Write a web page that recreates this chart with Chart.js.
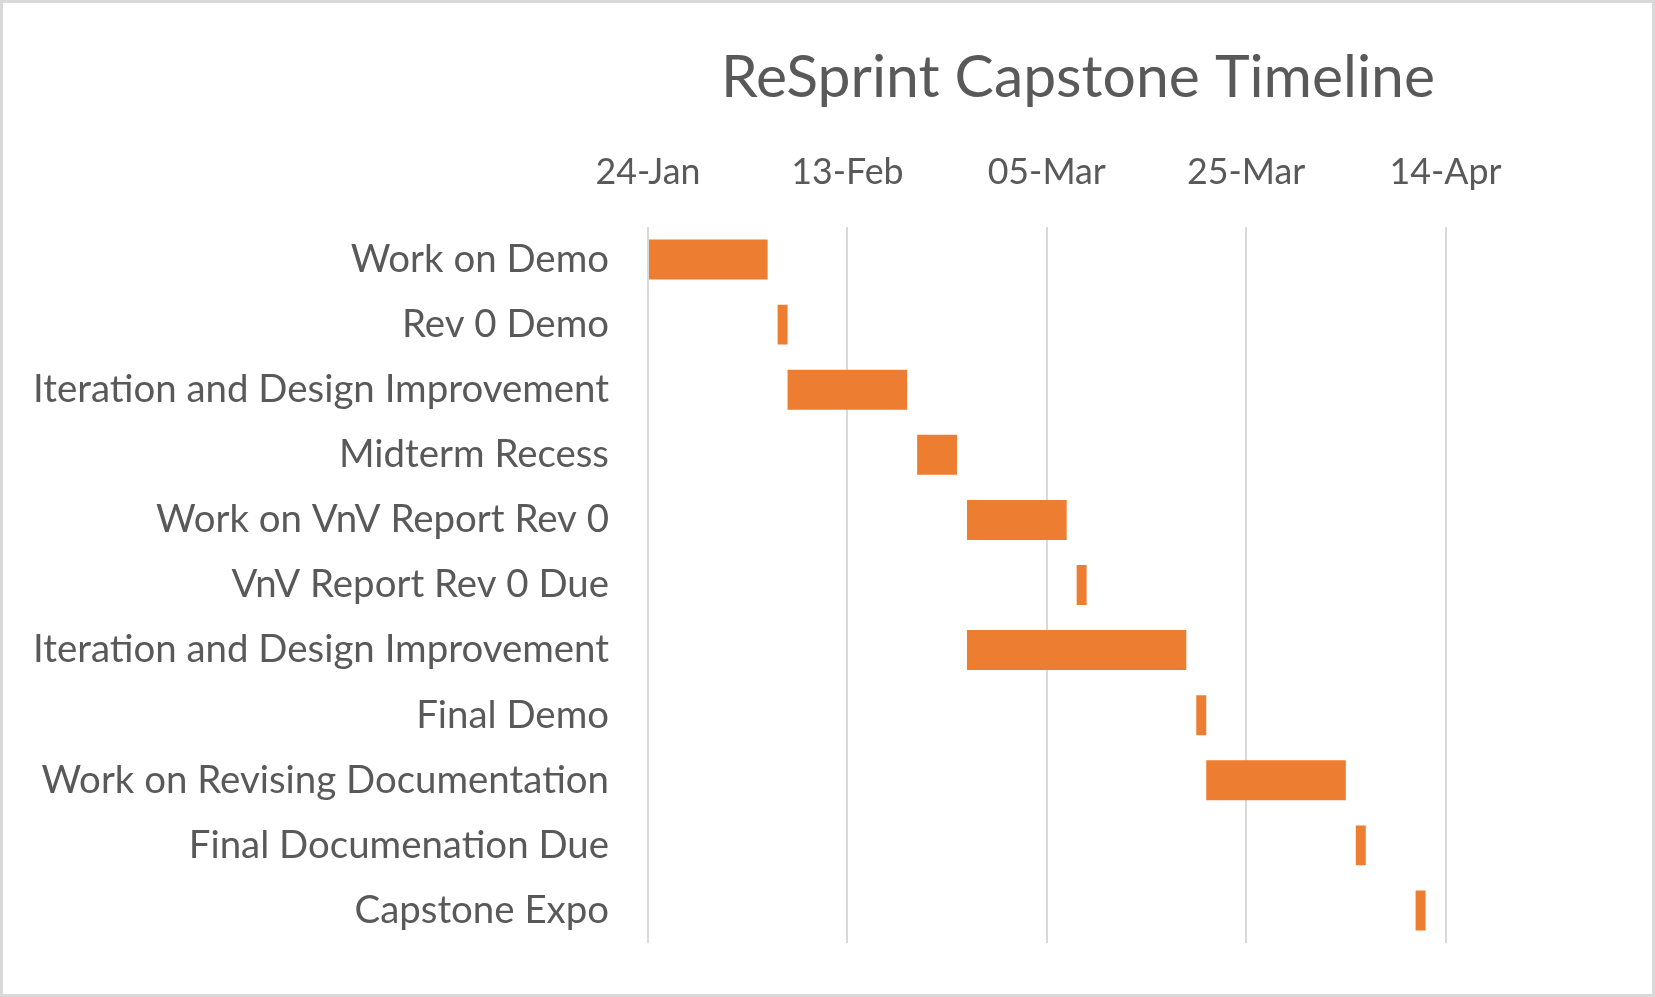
<!DOCTYPE html>
<html>
<head>
<meta charset="utf-8">
<script src="https://cdn.jsdelivr.net/npm/chart.js@4.4.1/dist/chart.umd.min.js"></script>
<style>
  html, body { margin: 0; padding: 0; background: #ffffff; }
  #wrap { width: 1655px; height: 997px; }
</style>
</head>
<body>
<div id="wrap"><canvas id="c" width="1655" height="997"></canvas></div>
<script>
const chartTitle = 'ReSprint Capstone Timeline';
const categories = [
  'Work on Demo',
  'Rev 0 Demo',
  'Iteration and Design Improvement',
  'Midterm Recess',
  'Work on VnV Report Rev 0',
  'VnV Report Rev 0 Due',
  'Iteration and Design Improvement',
  'Final Demo',
  'Work on Revising Documentation',
  'Final Documenation Due',
  'Capstone Expo'
];
const startDates = [
  '2023-01-24', '2023-02-06', '2023-02-07', '2023-02-20', '2023-02-25',
  '2023-03-08', '2023-02-25', '2023-03-20', '2023-03-21', '2023-04-05', '2023-04-11'
];
const durations = [12, 1, 12, 4, 10, 1, 22, 1, 14, 1, 1];
const axisStart = '2023-01-24';
const axisEnd = '2023-04-14';
const tickStepDays = 20;
const tickLabels = ['24-Jan', '13-Feb', '05-Mar', '25-Mar', '14-Apr'];

const DAY = 86400000;
function dayOffset(s) { return (Date.parse(s + 'T00:00:00Z') - Date.parse(axisStart + 'T00:00:00Z')) / DAY; }
const ranges = startDates.map((s, i) => [dayOffset(s), dayOffset(s) + durations[i]]);

const FAMILY = 'Lato, "Open Sans", sans-serif';
const TEXT = '#595959';

function fit(text, target) {
  const ctx = document.createElement('canvas').getContext('2d');
  ctx.font = '100px ' + FAMILY;
  return 100 * target / ctx.measureText(text).width;
}

function build() {
  const labelSize = fit('Iteration and Design Improvement', 576);
  const tickSize = fit('24-Jan', 105);
  const titleSize = fit(chartTitle, 714);

  const titlePlugin = {
    id: 'customTitle',
    afterDraw(chart) {
      const ctx = chart.ctx;
      ctx.save();
      ctx.font = titleSize + 'px ' + FAMILY;
      ctx.fillStyle = TEXT;
      ctx.textAlign = 'center';
      ctx.textBaseline = 'alphabetic';
      ctx.fillText(chartTitle, 1078, 97);
      ctx.restore();
    }
  };
  const borderPlugin = {
    id: 'frame',
    afterDraw(chart) {
      const ctx = chart.ctx;
      ctx.save();
      ctx.strokeStyle = '#d9d9d9';
      ctx.lineWidth = 3;
      ctx.strokeRect(1.5, 1.5, chart.width - 3, chart.height - 3);
      ctx.restore();
    }
  };

  new Chart(document.getElementById('c'), {
    type: 'bar',
    data: {
      labels: categories,
      datasets: [{
        data: ranges,
        backgroundColor: '#ED7D31',
        borderWidth: 0,
        barPercentage: 0.614,
        categoryPercentage: 1.0
      }]
    },
    options: {
      indexAxis: 'y',
      responsive: false,
      devicePixelRatio: 1,
      animation: false,
      layout: { padding: { left: 0, right: 209.5, top: 120, bottom: 54 } },
      plugins: {
        legend: { display: false },
        title: { display: false },
        tooltip: { enabled: false }
      },
      scales: {
        x: {
          type: 'linear',
          position: 'top',
          min: 0,
          max: dayOffset(axisEnd),
          afterBuildTicks(scale) {
            scale.ticks = tickLabels.map((_, i) => ({ value: i * tickStepDays }));
          },
          afterFit(scale) {
            scale.height = 107;
            scale.paddingLeft = 0;
            scale.paddingRight = 0;
          },
          ticks: {
            callback: (v) => tickLabels[Math.round(v / tickStepDays)],
            color: TEXT,
            font: { family: FAMILY, size: tickSize },
            padding: 33,
            maxRotation: 0
          },
          grid: { color: '#d9d9d9', lineWidth: 2, drawTicks: false },
          border: { display: false }
        },
        y: {
          type: 'category',
          afterFit(scale) {
            scale.width = 648;
            scale.paddingTop = 0;
            scale.paddingBottom = 0;
          },
          ticks: {
            color: TEXT,
            font: { family: FAMILY, size: labelSize },
            padding: 39,
            autoSkip: false
          },
          grid: { display: false, drawTicks: false },
          border: { display: false }
        }
      }
    },
    plugins: [titlePlugin, borderPlugin]
  });
}

if (document.fonts && document.fonts.load) {
  Promise.all([document.fonts.load('40px Lato')]).then(build, build);
} else {
  build();
}
</script>
</body>
</html>
